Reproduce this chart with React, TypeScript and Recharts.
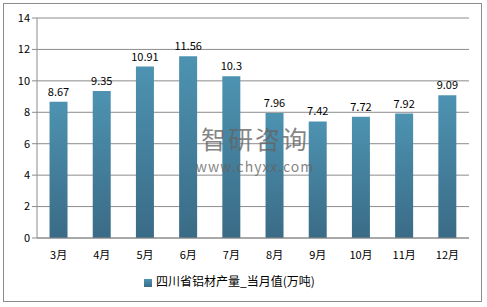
import React from "react";
import { BarChart, Bar, XAxis, YAxis, CartesianGrid, Legend, LabelList } from "recharts";

const months = ["3月", "4月", "5月", "6月", "7月", "8月", "9月", "10月", "11月", "12月"];
const values = [8.67, 9.35, 10.91, 11.56, 10.3, 7.96, 7.42, 7.72, 7.92, 9.09];
const yTicks = [0, 2, 4, 6, 8, 10, 12, 14];
const boundaryTicks = [0, 1, 2, 3, 4, 5, 6, 7, 8, 9, 10];
const seriesName = "四川省铝材产量_当月值(万吨)";

const data = months.map((m, i) => ({ month: m, value: values[i] }));

const font = '"Noto Sans CJK SC", "Noto Sans", sans-serif';

export default function App() {
  return (
    <div style={{ position: "absolute", left: 0, top: 0, width: 487, height: 307, background: "#fff" }}>
      <div style={{ position: "absolute", left: 3, top: 3, width: 479, height: 299, border: "1px solid #8c8c8c", boxSizing: "border-box" }} />
      <BarChart
        width={487}
        height={307}
        data={data}
        margin={{ top: 18, right: 18, left: 0, bottom: 22 }}
        barCategoryGap="29%"
        style={{ fontFamily: font }}
      >
        <defs>
          <linearGradient id="barGrad" x1="0" y1="0" x2="0" y2="1">
            <stop offset="0%" stopColor="#4d93b1" />
            <stop offset="100%" stopColor="#3a6b86" />
          </linearGradient>
        </defs>
        <CartesianGrid vertical={false} stroke="#8c8c8c" strokeWidth={1} />
        <XAxis
          xAxisId="b"
          type="number"
          domain={[0, 10]}
          ticks={boundaryTicks}
          height={0}
          axisLine={false}
          tickLine={{ stroke: "#8c8c8c" }}
          tickSize={5}
          tickFormatter={() => ""}
          interval={0}
        />
        <XAxis
          dataKey="month"
          height={30}
          tickLine={false}
          axisLine={{ stroke: "#8c8c8c" }}
          tick={{ fontSize: 11, fill: "#000", fontFamily: font }}
          tickMargin={7}
          interval={0}
        />
        <YAxis
          width={37}
          domain={[0, 14]}
          ticks={yTicks}
          axisLine={{ stroke: "#8c8c8c" }}
          tickLine={{ stroke: "#8c8c8c" }}
          tickSize={5}
          tick={{ fontSize: 11, fill: "#000", fontFamily: font }}
          interval={0}
        />
        <Legend
          verticalAlign="bottom"
          align="center"
          iconType="square"
          iconSize={8}
          wrapperStyle={{ fontSize: 12, fontFamily: font, color: "#000", top: 272 }}
          formatter={(v) => <span style={{ color: "#000" }}>{v}</span>}
        />
        <Bar dataKey="value" name={seriesName} fill="url(#barGrad)" isAnimationActive={false}>
          <LabelList dataKey="value" position="top" offset={6} style={{ fontSize: 11, fill: "#000", fontFamily: font }} />
        </Bar>
      </BarChart>
      <div style={{ position: "absolute", left: 170, top: 124, width: 170, textAlign: "center", fontFamily: font, fontSize: 25, lineHeight: "28px", color: "rgba(100,100,100,0.8)", letterSpacing: 2, pointerEvents: "none" }}>智研咨询</div>
      <div style={{ position: "absolute", left: 170, top: 158, width: 170, textAlign: "center", fontFamily: font, fontSize: 14, lineHeight: "16px", color: "rgba(100,100,100,0.8)", letterSpacing: 1, pointerEvents: "none" }}>www.chyxx.com</div>
    </div>
  );
}
